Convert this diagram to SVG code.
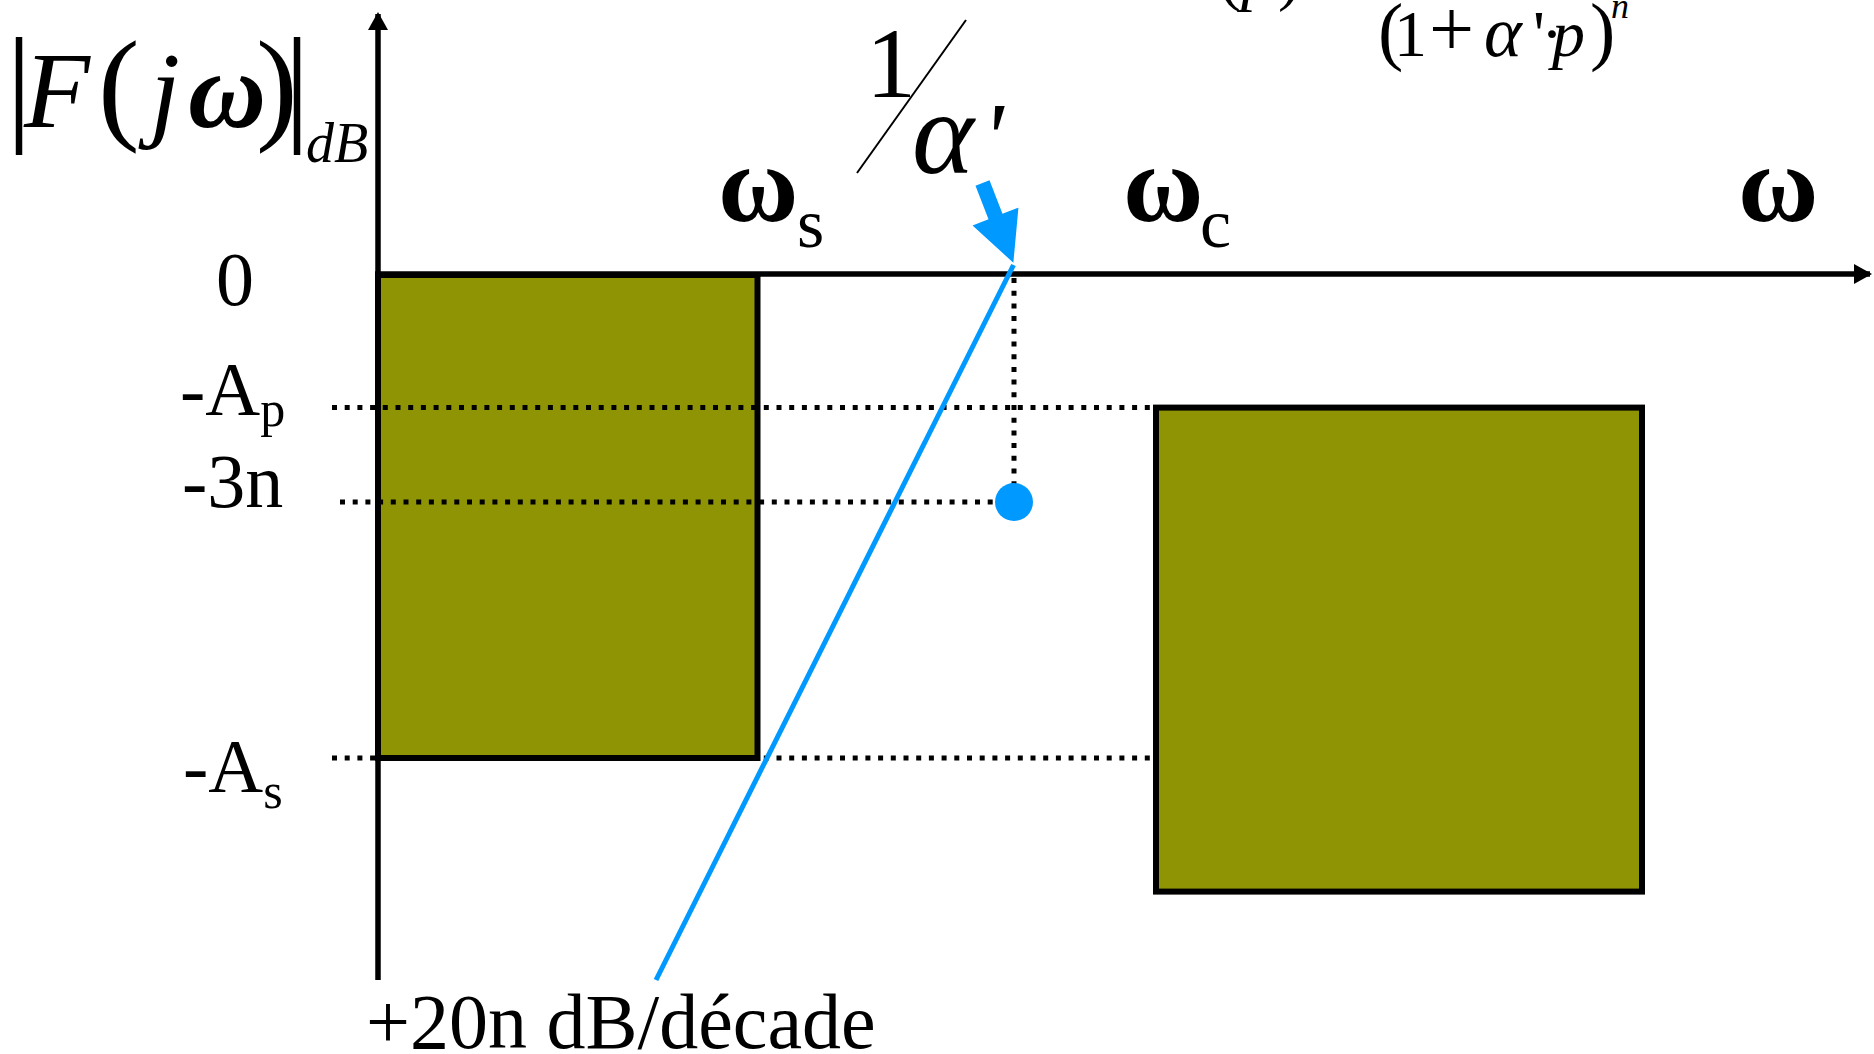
<svg xmlns="http://www.w3.org/2000/svg" width="1874" height="1054" viewBox="0 0 1874 1054">
<style>
.t{font-family:"Liberation Serif","Times New Roman",serif;fill:#000}
.i{font-style:italic}
.box{fill:#8F9405;stroke:#000;stroke-width:6}
.ax{stroke:#000;stroke-width:5.5;fill:none}
.dot{stroke:#000;stroke-width:5;stroke-dasharray:5 7.7;fill:none}
.blue{stroke:#0099FF;stroke-width:5;fill:none}
</style>
<defs>
<marker id="ah" markerUnits="userSpaceOnUse" markerWidth="18" markerHeight="20" refX="16" refY="10" orient="auto">
<path d="M0,0 L18,10 L0,20 z" fill="#000"/>
</marker>
</defs>
<rect width="1874" height="1054" fill="#fff"/>

<g id="box-stop">
<rect class="box" x="378" y="275" width="379.5" height="483"/>
</g>
<g id="box-pass">
<rect class="box" x="1156" y="407.6" width="486" height="484"/>
</g>

<g id="connectors">
<line class="dot" x1="332" y1="407.6" x2="1153" y2="407.6"/>
<line class="dot" x1="340" y1="502" x2="1000" y2="502"/>
<line class="dot" x1="332" y1="758" x2="1153" y2="758"/>
<line class="dot" x1="1014" y1="278" x2="1014" y2="500"/>
<line class="ax" x1="378" y1="980" x2="378" y2="14" marker-end="url(#ah)"/>
<line class="ax" x1="375" y1="274" x2="1870" y2="274" marker-end="url(#ah)"/>
<line class="blue" x1="1013.5" y1="265" x2="656" y2="980"/>
<polygon fill="#0099FF" transform="translate(982.5,183) rotate(68.85)" points="0,-7.5 36,-7.5 36,-24.6 85.5,0 36,24.6 36,7.5 0,7.5"/>
<line x1="966" y1="20" x2="857" y2="173" stroke="#000" stroke-width="2"/>
</g>

<g id="point-3db">
<circle cx="1014" cy="502" r="19" fill="#0099FF"/>
</g>

<g id="label-ylabel">
<text class="t" y="127" font-size="108">
<tspan x="6" font-size="130">|</tspan><tspan x="24" class="i">F</tspan><tspan x="98" font-size="125">(</tspan><tspan x="150" class="i">j</tspan><tspan x="188" class="i" font-weight="bold">ω</tspan><tspan x="256" font-size="125">)</tspan><tspan x="284" font-size="130">|</tspan><tspan x="306" y="162" font-size="56" class="i">dB</tspan>
</text>
</g>

<g id="label-formula-top">
<text class="t" y="-2" font-size="66"><tspan x="1219">(</tspan><tspan x="1241" class="i">p</tspan><tspan x="1278">)</tspan></text>
</g>
<g id="label-formula">
<text class="t" y="56" font-size="66"><tspan x="1378" font-size="76">(</tspan><tspan x="1394">1</tspan><tspan x="1429" font-size="80">+</tspan><tspan x="1484" class="i" font-size="72">α</tspan><tspan x="1533">'</tspan><tspan x="1541">·</tspan><tspan x="1552" class="i">p</tspan><tspan x="1590" font-size="76">)</tspan><tspan x="1611" y="18" font-size="36" class="i">n</tspan></text>
</g>

<g id="label-inv-alpha">
<text class="t" x="866" y="97" font-size="100">1</text>
<text class="t i" x="912" y="173" font-size="118">α</text>
<text class="t i" x="982" y="171" font-size="100">'</text>
</g>

<g id="label-ws">
<text class="t" x="718" y="221" font-size="110" font-weight="bold">ω</text>
<text class="t" x="797" y="247" font-size="70">s</text>
</g>
<g id="label-wc">
<text class="t" x="1123" y="221" font-size="110" font-weight="bold">ω</text>
<text class="t" x="1200" y="247" font-size="70">c</text>
</g>
<g id="label-w">
<text class="t" x="1738" y="221" font-size="110" font-weight="bold">ω</text>
</g>

<g id="label-0">
<text class="t" x="235" y="305" font-size="76" text-anchor="middle">0</text>
</g>
<g id="label-ap">
<text class="t" x="180" y="415" font-size="76">-A<tspan y="426" font-size="50">p</tspan></text>
</g>
<g id="label-3n">
<text class="t" x="182" y="507" font-size="76">-3n</text>
</g>
<g id="label-as">
<text class="t" x="183" y="792" font-size="76">-A<tspan y="808" font-size="50">s</tspan></text>
</g>
<g id="label-slope">
<text class="t" x="366" y="1048" font-size="78">+20n dB/décade</text>
</g>
</svg>
